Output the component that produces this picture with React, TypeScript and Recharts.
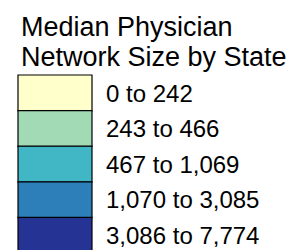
import React from 'react';
import { BarChart, Bar, XAxis, YAxis, Cell, LabelList } from 'recharts';

const titleLines = ['Median Physician', 'Network Size by State'];
const classLabels = ['0 to 242', '243 to 466', '467 to 1,069', '1,070 to 3,085', '3,086 to 7,774'];
const classColors = ['#FFFFCC', '#A1DAB4', '#41B6C4', '#2C7FB8', '#253494'];
// every class gets the same swatch height
const classSpans = [1, 1, 1, 1, 1];

const data = classLabels.map((label, i) => ({ label, span: classSpans[i] }));

const font = '"Liberation Sans", Arial, sans-serif';

export default function App() {
  return (
    <div style={{ position: 'fixed', left: 0, top: 0, width: 307, height: 250, overflow: 'hidden', background: '#fff' }}>
      <div
        style={{
          position: 'absolute',
          left: 21,
          top: 12,
          fontFamily: font,
          fontSize: 27,
          lineHeight: '30px',
          color: '#000',
          whiteSpace: 'nowrap',
        }}
      >
        {titleLines.map((t) => (
          <div key={t}>{t}</div>
        ))}
      </div>
      <BarChart
        width={307}
        height={253}
        data={data}
        layout="vertical"
        margin={{ top: 75, right: 215, bottom: 0, left: 18 }}
        barCategoryGap={0}
        style={{ position: 'absolute', left: 0, top: 0 }}
      >
        <XAxis type="number" domain={[0, 1]} hide />
        <YAxis type="category" dataKey="label" hide />
        <Bar dataKey="span" stroke="#000" strokeWidth={1.2} isAnimationActive={false}>
          {data.map((d, i) => (
            <Cell key={d.label} fill={classColors[i]} />
          ))}
          <LabelList
            dataKey="label"
            position="right"
            offset={14}
            fill="#000"
            fontSize={24}
            fontFamily={font}
          />
        </Bar>
      </BarChart>
    </div>
  );
}
